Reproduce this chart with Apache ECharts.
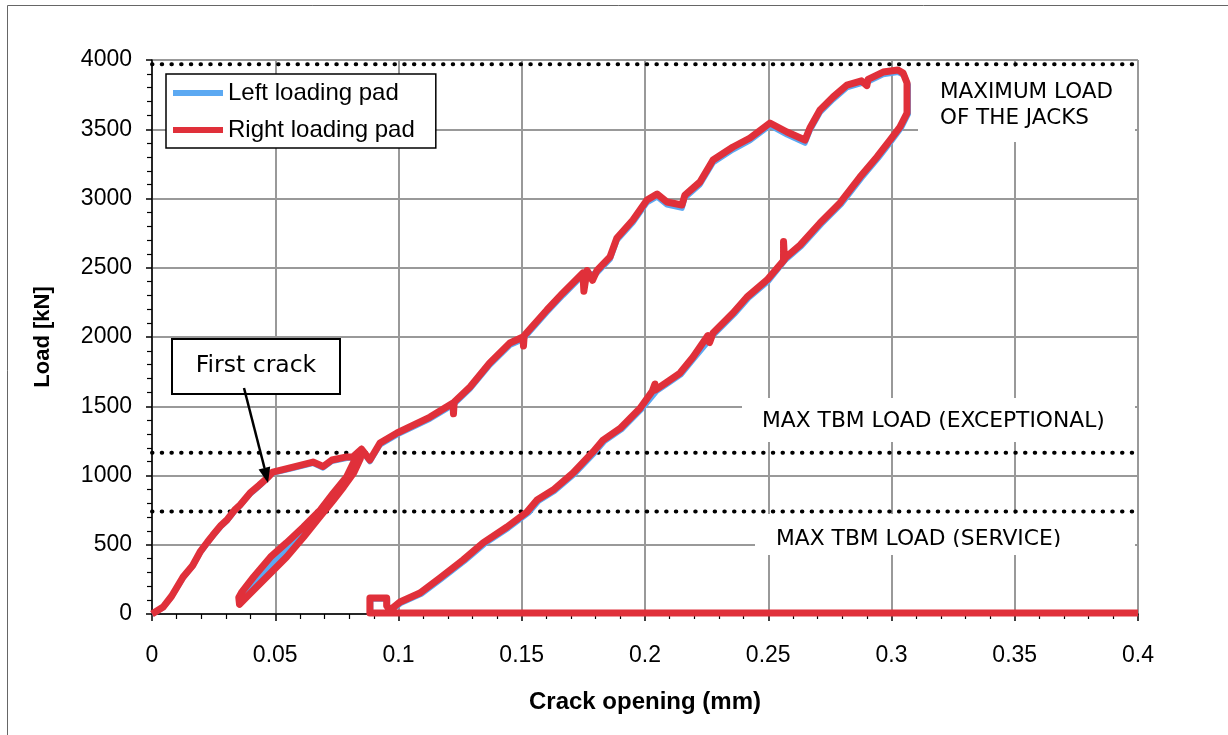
<!DOCTYPE html>
<html>
<head>
<meta charset="utf-8">
<script src="https://cdn.jsdelivr.net/npm/echarts@6/dist/echarts.min.js"></script>
<style>
html,body{margin:0;padding:0;background:#fff;}
#c{width:1228px;height:735px;}
</style>
</head>
<body>
<div id="c"></div>
<script>
// ---- Data (crack opening [mm], load [kN]) ----
// Right loading pad
const rightInit = [[0,0],[0.0045,50],[0.008,130],[0.0126,267],[0.0165,350],[0.0195,448],[0.0225,520],[0.0247,570],[0.028,640],[0.0304,679],[0.0335,750],[0.0357,787],[0.0398,874],[0.0435,930],[0.0467,982],[0.049,1025],[0.0572,1061],[0.0653,1097],[0.0694,1065],[0.073,1112],[0.079,1134],[0.0815,1135],[0.085,1190]];
const rightLoop = [[0.0845,1120],[0.0818,1018],[0.0777,917],[0.0736,823],[0.068,700],[0.0615,556],[0.0546,412],[0.0465,267],[0.0384,123],[0.0355,70],[0.0352,120],[0.0365,160],[0.0412,267],[0.0481,412],[0.0545,513],[0.0614,628],[0.0683,751],[0.0736,874],[0.0789,989],[0.0825,1120],[0.085,1190]];
const rightUpper = [[0.0884,1112],[0.0925,1235],[0.0994,1307],[0.1128,1422],[0.1221,1523],[0.1223,1445],[0.1226,1530],[0.129,1639],[0.137,1812],[0.1452,1957],[0.1505,2000],[0.1507,1935],[0.151,2010],[0.1602,2195],[0.1667,2318],[0.1748,2462],[0.1752,2330],[0.1765,2480],[0.1787,2410],[0.1805,2480],[0.1858,2578],[0.1886,2715],[0.1951,2845],[0.2008,2989],[0.2049,3032],[0.2089,2975],[0.215,2953],[0.2162,3025],[0.2223,3119],[0.2276,3278],[0.2357,3372],[0.2426,3437],[0.2507,3545],[0.2576,3480],[0.2649,3422],[0.2669,3509],[0.271,3639],[0.2763,3733],[0.2819,3819],[0.2878,3850],[0.29,3815],[0.2905,3860],[0.2966,3913],[0.3026,3928],[0.3047,3906],[0.3063,3834],[0.3063,3617]];
const rightUnload = [[0.3034,3516],[0.2994,3422],[0.2941,3300],[0.2872,3155],[0.2791,2968],[0.271,2823],[0.2629,2664],[0.2562,2560],[0.2562,2690],[0.2566,2560],[0.2495,2412],[0.2414,2289],[0.2357,2173],[0.2276,2029],[0.2262,1960],[0.2255,2010],[0.2195,1856],[0.2142,1740],[0.2089,1675],[0.2041,1617],[0.204,1660],[0.203,1610],[0.198,1485],[0.1899,1340],[0.183,1256],[0.1789,1170],[0.1708,1018],[0.1627,895],[0.1562,823],[0.1521,736],[0.144,628],[0.1343,513],[0.1262,390],[0.1168,260],[0.1087,152],[0.1006,87],[0.0966,29],[0.0952,60],[0.0952,115],[0.0884,115],[0.0884,8],[0.4,8]];
// Left loading pad
const leftInit = [[0,0],[0.0045,45],[0.008,125],[0.0126,260],[0.0165,345],[0.0195,440],[0.0225,512],[0.0247,562],[0.028,632],[0.0304,672],[0.0335,742],[0.0357,780],[0.0398,866],[0.0435,922],[0.0467,975],[0.049,1018],[0.0572,1052],[0.0653,1088],[0.0694,1055],[0.073,1102],[0.079,1125],[0.0815,1128],[0.0848,1185]];
const leftLoop = [[0.0841,1120],[0.0814,1018],[0.0773,917],[0.0731,823],[0.0673,700],[0.0599,556],[0.052,412],[0.0445,267],[0.0375,123],[0.0358,75],[0.0362,120],[0.0379,160],[0.0433,267],[0.0508,412],[0.0564,513],[0.0625,628],[0.0687,751],[0.0741,874],[0.0792,989],[0.0829,1120],[0.0848,1185]];
const leftUpper = [[0.0884,1100],[0.0925,1222],[0.0994,1294],[0.1128,1408],[0.1221,1508],[0.1226,1515],[0.129,1624],[0.137,1796],[0.1452,1940],[0.1505,1982],[0.151,1990],[0.1602,2178],[0.1667,2300],[0.1748,2445],[0.1805,2462],[0.1858,2560],[0.1886,2697],[0.1951,2826],[0.2008,2970],[0.2049,3012],[0.2089,2955],[0.215,2930],[0.2162,3005],[0.2223,3100],[0.2276,3258],[0.2357,3352],[0.2426,3418],[0.2507,3526],[0.2576,3460],[0.2649,3400],[0.2669,3490],[0.271,3620],[0.2763,3714],[0.2819,3800],[0.2878,3832],[0.2905,3842],[0.2966,3895],[0.3026,3912],[0.3052,3890],[0.3068,3820],[0.3068,3610]];
const leftUnload = [[0.304,3510],[0.3,3415],[0.2947,3292],[0.2878,3146],[0.2797,2960],[0.2716,2815],[0.2635,2656],[0.2568,2552],[0.2501,2404],[0.242,2281],[0.2363,2165],[0.2282,2021],[0.2201,1848],[0.2148,1732],[0.2095,1667],[0.2047,1609],[0.1986,1477],[0.1905,1332],[0.1836,1248],[0.1795,1162],[0.1714,1010],[0.1633,887],[0.1568,815],[0.1527,728],[0.1446,620],[0.1349,505],[0.1268,382],[0.1174,252],[0.1093,144],[0.1012,80],[0.097,24],[0.0955,55],[0.0955,108],[0.0887,108],[0.0887,8],[0.4,8]];
// Reference load levels [kN]
const maxJacksLoad = 3970;
const tbmExceptional = 1165;
const tbmService = 740;
const seriesNames = ['Left loading pad', 'Right loading pad'];

const leftData = leftInit.concat(leftLoop, leftUpper, leftUnload);
const rightData = rightInit.concat(rightLoop, rightUpper, rightUnload);

const chart = echarts.init(document.getElementById('c'), null, {renderer: 'canvas'});
const TICK_FONT = 'Liberation Sans, Arial, sans-serif';
const ANN_FONT = 'DejaVu Sans, Verdana, sans-serif';

function dotted(level) {
  return {
    type: 'line', silent: true, symbol: 'none', z: 3,
    data: [[0, level], [0.4, level]],
    lineStyle: {color: '#000', width: 4, type: [0.5, 9.2], cap: 'round'},
    tooltip: {show: false}
  };
}

const option = {
  animation: false,
  backgroundColor: '#fff',
  grid: {left: 152, right: 90, top: 60, bottom: 121, containLabel: false},
  legend: {
    data: seriesNames,
    orient: 'vertical',
    left: 166, top: 74,
    padding: [6, 21, 5, 7],
    itemGap: 11,
    itemWidth: 50, itemHeight: 6,
    icon: 'rect',
    backgroundColor: '#fff',
    borderColor: '#000', borderWidth: 1.5, borderRadius: 0,
    textStyle: {fontFamily: TICK_FONT, fontSize: 24, color: '#000', lineHeight: 26},
    z: 20
  },
  xAxis: {
    type: 'value', min: 0, max: 0.4, interval: 0.05,
    name: 'Crack opening (mm)', nameLocation: 'middle', nameGap: 76,
    nameTextStyle: {fontFamily: TICK_FONT, fontSize: 24, fontWeight: 'bold', color: '#000'},
    axisLine: {show: true, onZero: false, lineStyle: {color: '#000', width: 1.5}},
    axisTick: {show: true, inside: false, length: 7, lineStyle: {color: '#000', width: 1.5}},
    minorTick: {show: true, splitNumber: 5, length: 5, lineStyle: {color: '#000', width: 1.2}},
    axisLabel: {margin: 30, fontFamily: TICK_FONT, fontSize: 23, color: '#000'},
    splitLine: {show: true, lineStyle: {color: '#999', width: 2}}
  },
  yAxis: {
    type: 'value', min: 0, max: 4000, interval: 500,
    name: 'Load [kN]', nameLocation: 'middle', nameGap: 98,
    nameTextStyle: {fontFamily: TICK_FONT, fontSize: 22, fontWeight: 'bold', color: '#000'},
    axisLine: {show: true, onZero: false, lineStyle: {color: '#000', width: 1.5}},
    axisTick: {show: true, inside: false, length: 6, lineStyle: {color: '#000', width: 1.5}},
    minorTick: {show: true, splitNumber: 5, length: 5, lineStyle: {color: '#000', width: 1.2}},
    axisLabel: {margin: 20, fontFamily: TICK_FONT, fontSize: 23, color: '#000',
      formatter: function (v) { return String(v); }},
    splitLine: {show: true, lineStyle: {color: '#999', width: 2}}
  },
  series: [
    {
      name: seriesNames[0], type: 'line', data: leftData, symbol: 'none', z: 4,
      color: '#5CA9F2',
      lineStyle: {color: '#5CA9F2', width: 5.5, join: 'round'}
    },
    {
      name: seriesNames[1], type: 'line', data: rightData, symbol: 'none', z: 5,
      color: '#E0303A',
      lineStyle: {color: '#E0303A', width: 7, join: 'round'}
    },
    dotted(maxJacksLoad),
    dotted(tbmExceptional),
    dotted(tbmService)
  ],
  graphic: {
    elements: [
      {type: 'rect', silent: true, z: 0, shape: {x: 7.5, y: 5.5, width: 1240, height: 760},
        style: {fill: 'none', stroke: '#666', lineWidth: 1}},
      // MAXIMUM LOAD OF THE JACKS
      {type: 'rect', silent: true, z: 1, shape: {x: 918, y: 67, width: 217, height: 75}, style: {fill: '#fff'}},
      {type: 'text', silent: true, z: 1, z2: 10, style: {x: 940, y: 79, text: 'MAXIMUM LOAD\nOF THE JACKS',
        fontFamily: ANN_FONT, fontSize: 21.5, lineHeight: 26, fill: '#000', verticalAlign: 'top'}},
      // MAX TBM LOAD (EXCEPTIONAL)
      {type: 'rect', silent: true, z: 1, shape: {x: 742, y: 398, width: 393, height: 44}, style: {fill: '#fff'}},
      {type: 'text', silent: true, z: 1, z2: 10, style: {x: 762, y: 421, text: 'MAX TBM LOAD (EXCEPTIONAL)',
        fontFamily: ANN_FONT, fontSize: 21.8, fill: '#000', verticalAlign: 'middle'}},
      // MAX TBM LOAD (SERVICE)
      {type: 'rect', silent: true, z: 1, shape: {x: 755, y: 514, width: 380, height: 41}, style: {fill: '#fff'}},
      {type: 'text', silent: true, z: 1, z2: 10, style: {x: 776, y: 539, text: 'MAX TBM LOAD (SERVICE)',
        fontFamily: ANN_FONT, fontSize: 21.8, fill: '#000', verticalAlign: 'middle'}},
      {type: 'rect', silent: true, z: 1, z2: 20, shape: {x: 755, y: 547, width: 380, height: 8}, style: {fill: '#fff'}},
      // First crack callout
      {type: 'rect', silent: true, z: 10, shape: {x: 172, y: 339, width: 168, height: 55},
        style: {fill: '#fff', stroke: '#000', lineWidth: 2}},
      {type: 'text', silent: true, z: 10, z2: 10, style: {x: 256, y: 366, text: 'First crack',
        fontFamily: ANN_FONT, fontSize: 23.5, fill: '#000', align: 'center', verticalAlign: 'middle'}},
      {type: 'line', silent: true, z: 10, shape: {x1: 244, y1: 388, x2: 264.5, y2: 468},
        style: {stroke: '#000', lineWidth: 2.5}},
      {type: 'polygon', silent: true, z: 10, shape: {points: [[268, 483], [270.2, 466.5], [258.6, 469.5]]},
        style: {fill: '#000'}}
    ]
  }
};
chart.setOption(option);
</script>
</body>
</html>
